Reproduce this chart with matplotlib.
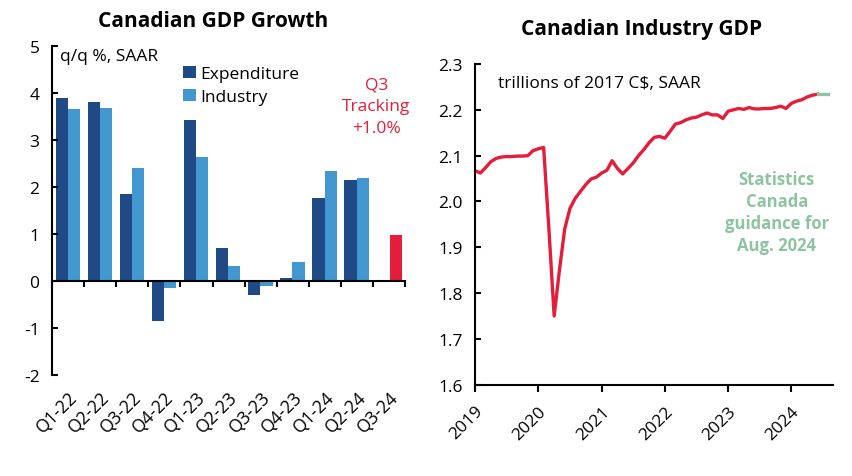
import numpy as np
import matplotlib
matplotlib.use("Agg")
import matplotlib.pyplot as plt

plt.rcParams['font.family'] = ['Open Sans', 'DejaVu Sans']
plt.rcParams['axes.unicode_minus'] = False

# left panel: quarterly GDP growth, q/q % SAAR
quarters = ['Q1-22', 'Q2-22', 'Q3-22', 'Q4-22', 'Q1-23', 'Q2-23',
            'Q3-23', 'Q4-23', 'Q1-24', 'Q2-24', 'Q3-24']
expenditure = [3.9, 3.8, 1.85, -0.85, 3.43, 0.7, -0.3, 0.07, 1.76, 2.14, np.nan]
industry = [3.65, 3.68, 2.4, -0.15, 2.63, 0.32, -0.1, 0.4, 2.33, 2.19, np.nan]
tracking = [np.nan] * 10 + [0.97]

# right panel: monthly industry GDP, trillions of 2017 C$, Jan 2019 - Jun 2024
gdp = [2.067, 2.062, 2.074, 2.087, 2.094, 2.097, 2.098, 2.098, 2.099, 2.099,
       2.100, 2.111, 2.115, 2.118, 1.940, 1.750, 1.850, 1.940, 1.985, 2.007,
       2.022, 2.037, 2.049, 2.053, 2.062, 2.068, 2.089, 2.072, 2.060, 2.072,
       2.084, 2.100, 2.113, 2.128, 2.140, 2.142, 2.138, 2.153, 2.169, 2.172,
       2.178, 2.182, 2.184, 2.189, 2.193, 2.189, 2.189, 2.181, 2.197, 2.200,
       2.203, 2.201, 2.205, 2.202, 2.202, 2.203, 2.203, 2.205, 2.208, 2.203,
       2.214, 2.219, 2.222, 2.228, 2.232, 2.234]
guidance = [2.234, 2.234, 2.234]  # Jun -> Aug 2024

dark = '#1F4A86'
light = '#4297D0'
red = '#E41E3A'
green = '#8DC4A0'

fig = plt.figure(figsize=(8.53, 4.77), dpi=100)

# ---- left: bars
ax1 = fig.add_axes([0.061, 0.2117, 0.414, 0.6898])
x = np.arange(len(quarters))
ax1.bar(x - 0.2, expenditure, width=0.38, color=dark, label='Expenditure')
ax1.bar(x + 0.18, industry, width=0.38, color=light, label='Industry')
ax1.bar(x + 0.22, tracking, width=0.37, color=red)
ax1.set_xlim(-0.5, 10.5)
ax1.set_ylim(-2, 5)
ax1.spines['top'].set_visible(False)
ax1.spines['right'].set_visible(False)
ax1.spines['bottom'].set_position(('data', 0))
ax1.spines['left'].set_linewidth(1.5)
ax1.spines['bottom'].set_linewidth(1.5)
ax1.set_yticks(range(-2, 6))
ax1.tick_params(axis='y', direction='in', length=4, width=1.5, labelsize=12.5, pad=9)
ax1.set_xticks(np.arange(-0.5, 11, 1))
ax1.set_xticklabels([])
ax1.tick_params(axis='x', direction='out', length=4, width=1.5)
for i, q in enumerate(quarters):
    ax1.text(i + 0.2, -2.4, q, rotation=45, rotation_mode='anchor',
             ha='right', va='center', fontsize=12.8)
ax1.text(0.022, 0.97, 'q/q %, SAAR', transform=ax1.transAxes, fontsize=12.5, va='center')
ax1.text(9.6, 3.72, 'Q3\nTracking\n+1.0%', color=red, fontsize=12.5, ha='center',
         va='center', linespacing=1.45)
ax1.legend(loc='upper left', bbox_to_anchor=(0.37, 0.94), frameon=False, fontsize=12.5,
           handlelength=0.75, handleheight=0.75, handletextpad=0.25, labelspacing=0.38,
           borderaxespad=0, borderpad=0)
fig.text(0.25, 0.954, 'Canadian GDP Growth', ha='center', va='center',
         fontsize=15, fontweight='bold')

# ---- right: line
ax2 = fig.add_axes([0.557, 0.1914, 0.4196, 0.6723])
t = 2019 + np.arange(len(gdp)) / 12
tg = 2019 + np.arange(len(gdp) - 1, len(gdp) + 2) / 12
ax2.plot(t, gdp, color=red, lw=2.4)
ax2.plot(tg, guidance, color=green, lw=2.4)
ax2.set_xlim(2019, 2024.66)
ax2.set_ylim(1.6, 2.3)
ax2.spines['top'].set_visible(False)
ax2.spines['right'].set_visible(False)
ax2.spines['left'].set_linewidth(1.5)
ax2.spines['bottom'].set_linewidth(1.5)
ax2.set_yticks(np.arange(1.6, 2.31, 0.1))
ax2.set_yticklabels(['%.1f' % v for v in np.arange(1.6, 2.31, 0.1)])
ax2.tick_params(axis='y', direction='in', length=4, width=1.5, labelsize=12.5, pad=9)
years = [2019, 2020, 2021, 2022, 2023, 2024]
ax2.set_xticks(years)
ax2.set_xticklabels([str(y) for y in years], rotation=45, ha='right',
                    rotation_mode='anchor')
ax2.tick_params(axis='x', direction='out', length=5, width=1.5, labelsize=12.5, pad=8)
ax2.text(0.065, 0.94, 'trillions of 2017 C$, SAAR', transform=ax2.transAxes,
         fontsize=12.5, va='center')
ax2.text(2023.77, 1.977, 'Statistics\nCanada\nguidance for\nAug. 2024', color=green,
         fontsize=12, fontweight='bold', ha='center', va='center', linespacing=1.3)
fig.text(0.752, 0.939, 'Canadian Industry GDP', ha='center', va='center',
         fontsize=15, fontweight='bold')

fig.savefig('out.png', dpi=100)
